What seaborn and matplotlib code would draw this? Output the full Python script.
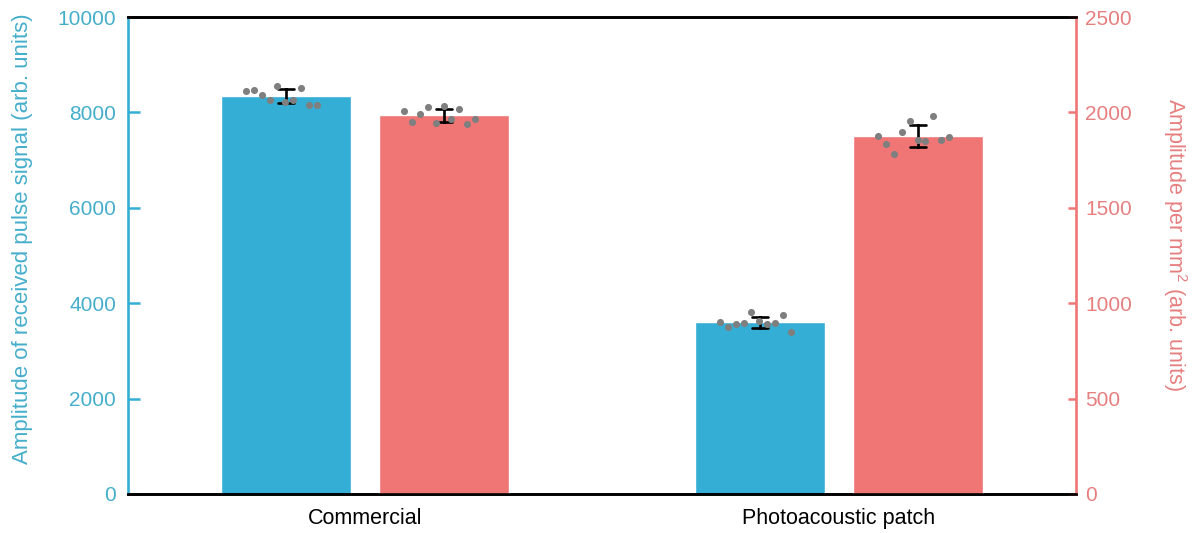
import numpy as np
import pandas as pd
import matplotlib
matplotlib.use("Agg")
import matplotlib.pyplot as plt
import seaborn as sns

# ---------------- data ----------------
categories = ["Commercial", "Photoacoustic patch"]
metrics = ["pulse", "per_mm2"]

pulse_commercial = [8449, 8470, 8365, 8260, 8553, 8212, 8260, 8518, 8161, 8161]
pulse_patch = [3600, 3507, 3570, 3591, 3809, 3627, 3558, 3579, 3753, 3403]
area_commercial = [2009, 1951, 1990, 2028, 1943, 2035, 1964, 2016, 1939, 1965]
area_patch = [1876, 1833, 1780, 1896, 1956, 1855, 1850, 1983, 1857, 1871]

left_ticks = [0, 2000, 4000, 6000, 8000, 10000]
right_ticks = [0, 500, 1000, 1500, 2000, 2500]

left_label = "Amplitude of received pulse signal (arb. units)"
right_label = "Amplitude per mm$^2$ (arb. units)"

# ---------------- style ----------------
BLUE = "#35AED6"
RED = "#F07676"
BLUE_TXT = "#45AECB"
RED_TXT = "#E67F7F"
DOT = "#7F7F7F"

sns.set_theme(style="white")
plt.rcParams["font.family"] = ["Liberation Sans", "DejaVu Sans"]
plt.rcParams["mathtext.fontset"] = "custom"
plt.rcParams["mathtext.rm"] = "Liberation Sans"

df_pulse = pd.DataFrame({
    "group": [categories[0]] * len(pulse_commercial) + [categories[1]] * len(pulse_patch),
    "value": pulse_commercial + pulse_patch,
    "metric": metrics[0],
})
df_area = pd.DataFrame({
    "group": [categories[0]] * len(area_commercial) + [categories[1]] * len(area_patch),
    "value": area_commercial + area_patch,
    "metric": metrics[1],
})

fig = plt.figure(figsize=(11.99, 5.33), dpi=100)
ax1 = fig.add_axes([0.1068, 0.0732, 0.7906, 0.8949])
ax2 = ax1.twinx()

WIDTH = 0.668
GAP = 0.175
palette = {metrics[0]: BLUE, metrics[1]: RED}
err_kws = {"color": "black", "linewidth": 1.9}

sns.barplot(data=df_pulse, x="group", y="value", hue="metric", order=categories,
            hue_order=metrics, palette=palette, width=WIDTH, gap=GAP, dodge=True,
            errorbar="sd", capsize=0.07, err_kws=err_kws, legend=False,
            saturation=1, ax=ax1)
sns.barplot(data=df_area, x="group", y="value", hue="metric", order=categories,
            hue_order=metrics, palette=palette, width=WIDTH, gap=GAP, dodge=True,
            errorbar="sd", capsize=0.07, err_kws=err_kws, legend=False,
            saturation=1, ax=ax2)

# individual points, spread evenly across each bar
slot = WIDTH / len(metrics)
spread = 0.149
shift = -0.0095


def add_points(ax, values_by_cat, hue_idx):
    for ci, vals in enumerate(values_by_cat):
        center = ci - WIDTH / 2 + slot * (hue_idx + 0.5) + shift
        xs = center + np.linspace(-spread / 2, spread / 2, len(vals))
        ax.scatter(xs, vals, s=26, color=DOT, zorder=5, linewidths=0)


add_points(ax1, [pulse_commercial, pulse_patch], 0)
add_points(ax2, [area_commercial, area_patch], 1)

ax1.set_xlim(-0.5, 1.5)
ax1.set_ylim(0, 10000)
ax2.set_ylim(0, 2500)
ax1.set_yticks(left_ticks)
ax2.set_yticks(right_ticks)

ax1.set_xlabel("")
ax2.set_xlabel("")
ax1.set_ylabel(left_label, color=BLUE_TXT, fontsize=16)
ax2.set_ylabel(right_label, color=RED_TXT, fontsize=15.5, rotation=270)
ax1.yaxis.set_label_coords(-0.111, 0.535)
ax2.yaxis.set_label_coords(1.104, 0.524)
ax2.yaxis.label.set_verticalalignment("center")
ax1.yaxis.label.set_verticalalignment("center")

ax1.tick_params(axis="x", length=0, labelsize=15.5, pad=10, labelcolor="black")
ax2.tick_params(axis="x", length=0)
ax1.tick_params(axis="y", direction="in", length=8.5, width=1.8, color=BLUE,
                labelcolor=BLUE_TXT, labelsize=15, pad=8.5)
ax2.tick_params(axis="y", direction="in", length=6, width=1.8, color=RED,
                labelcolor=RED_TXT, labelsize=15, pad=6.5)

for ax in (ax1, ax2):
    for side in ("top", "bottom"):
        ax.spines[side].set_color("black")
        ax.spines[side].set_linewidth(1.9)
ax1.spines["left"].set_color(BLUE)
ax1.spines["left"].set_linewidth(1.9)
ax1.spines["right"].set_visible(False)
ax2.spines["right"].set_color(RED)
ax2.spines["right"].set_linewidth(1.9)
ax2.spines["left"].set_visible(False)

fig.savefig("out.png", dpi=100)
